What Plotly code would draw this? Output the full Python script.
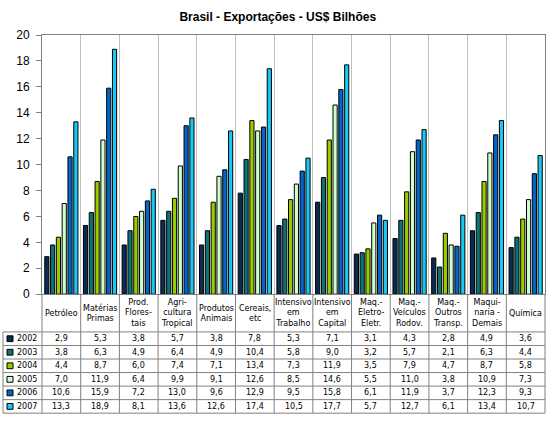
import plotly.graph_objects as go

categories = ["Petróleo", "Matérias<br>Primas", "Prod.<br>Flores-<br>tais", "Agri-<br>cultura<br>Tropical",
              "Produtos<br>Animais", "Cereais,<br>etc", "Intensivo<br>em<br>Trabalho", "Intensivo<br>em<br>Capital",
              "Maq.-<br>Eletro-<br>Eletr.", "Maq.-<br>Veículos<br>Rodov.", "Maq.-<br>Outros<br>Transp.",
              "Maqui-<br>naria -<br>Demais", "Química"]
years = ["2002", "2003", "2004", "2005", "2006", "2007"]
v2002 = [2.9, 5.3, 3.8, 5.7, 3.8, 7.8, 5.3, 7.1, 3.1, 4.3, 2.8, 4.9, 3.6]
v2003 = [3.8, 6.3, 4.9, 6.4, 4.9, 10.4, 5.8, 9.0, 3.2, 5.7, 2.1, 6.3, 4.4]
v2004 = [4.4, 8.7, 6.0, 7.4, 7.1, 13.4, 7.3, 11.9, 3.5, 7.9, 4.7, 8.7, 5.8]
v2005 = [7.0, 11.9, 6.4, 9.9, 9.1, 12.6, 8.5, 14.6, 5.5, 11.0, 3.8, 10.9, 7.3]
v2006 = [10.6, 15.9, 7.2, 13.0, 9.6, 12.9, 9.5, 15.8, 6.1, 11.9, 3.7, 12.3, 9.3]
v2007 = [13.3, 18.9, 8.1, 13.6, 12.6, 17.4, 10.5, 17.7, 5.7, 12.7, 6.1, 13.4, 10.7]
series = [v2002, v2003, v2004, v2005, v2006, v2007]
colors = ["#0B2C52", "#0D7272", "#99CC00", "#CCFFCC", "#0066CC", "#19C8F5"]
title = "Brasil - Exportações - US$ Bilhões"

W, H = 550, 425
x0p, x1p = 42 / W, 545 / W
ybot, ytop = 297, 29
hdr_bottom = 336
row_h = 14
tbl_left = 3 / W
grid = "#808080"
tfont = dict(family="DejaVu Sans", size=8, color="black")

def py(pix):
    return 1 - pix / H

fig = go.Figure()
for yr, vals, c in zip(years, series, colors):
    fig.add_trace(go.Bar(x=categories, y=vals, name=yr, marker=dict(color=c, line=dict(color="black", width=1))))

shapes = []
annotations = []
n = len(categories)
cw = (x1p - x0p) / n
for i in range(n + 1):
    xx = x0p + i * cw
    shapes.append(dict(type="line", xref="paper", yref="paper", x0=xx, x1=xx,
                       y0=py(ybot), y1=py(hdr_bottom + row_h * len(years)),
                       line=dict(color=grid, width=1)))
shapes.append(dict(type="line", xref="paper", yref="paper", x0=tbl_left, x1=tbl_left,
                   y0=py(hdr_bottom), y1=py(hdr_bottom + row_h * len(years)),
                   line=dict(color=grid, width=1)))
for r in range(len(years) + 1):
    yy = py(hdr_bottom + r * row_h)
    shapes.append(dict(type="line", xref="paper", yref="paper", x0=tbl_left, x1=x1p,
                       y0=yy, y1=yy, line=dict(color=grid, width=1)))

for cat in categories:
    annotations.append(dict(x=cat, xref="x", y=py((ybot + hdr_bottom) / 2), yref="paper",
                            text=cat, showarrow=False, font=tfont, yanchor="middle", xanchor="center"))
for r, (yr, vals, c) in enumerate(zip(years, series, colors)):
    ymid = hdr_bottom + r * row_h + row_h / 2
    yc = py(ymid)
    shapes.append(dict(type="rect", xref="paper", yref="paper", x0=7 / W, x1=13 / W,
                       y0=py(ymid + 3), y1=py(ymid - 3), fillcolor=c,
                       line=dict(color="black", width=1)))
    annotations.append(dict(x=15 / W, xref="paper", y=yc, yref="paper", xanchor="left",
                            yanchor="middle", showarrow=False, text=yr, font=tfont))
    for cat, v in zip(categories, vals):
        annotations.append(dict(x=cat, xref="x", y=yc, yref="paper", xanchor="center", yanchor="middle",
                                showarrow=False, text=f"{v:.1f}".replace(".", ","), font=tfont))

fig.update_layout(
    width=W, height=H, margin=dict(l=0, r=0, t=0, b=0),
    paper_bgcolor="white", plot_bgcolor="white",
    showlegend=False, barmode="group", bargap=0.1, bargroupgap=0.28,
    title=dict(text=f"<b>{title}</b>", x=0.505, xanchor="center", y=py(17), yanchor="middle",
               font=dict(family="Liberation Sans", size=12, color="black")),
    xaxis=dict(domain=[x0p, x1p], showticklabels=False, tickson="boundaries", showgrid=True,
               gridcolor="#C0C0C0", gridwidth=1, showline=True, linecolor=grid, mirror=True,
               ticks="", zeroline=False),
    yaxis=dict(domain=[py(ybot), py(ytop)], range=[0, 20], dtick=2, showgrid=False,
               showline=True, linecolor=grid, mirror=True, ticks="outside", ticklen=5, tickcolor=grid,
               tickfont=dict(family="Liberation Sans", size=12, color="black"), zeroline=False,
               ticklabelstandoff=4),
    shapes=shapes, annotations=annotations,
)
fig.write_html("out.html")
